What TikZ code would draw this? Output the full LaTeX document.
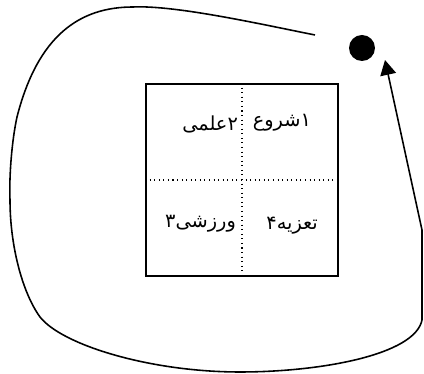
\documentclass[tikz,border=0pt]{standalone}
\usepackage{fontspec}
\usepackage{tikz}
\usetikzlibrary{arrows.meta, positioning, calc}
\TeXXeTstate=1
\newfontfamily\arabicfont[Script=Arabic]{DejaVu Sans}

\begin{document}
\begin{tikzpicture}[
      x=0.02cm, y=-0.02cm,
      grid/.style={rectangle, draw=black, line width=1.1pt,
                   minimum width=3.84cm, minimum height=3.84cm, inner sep=0pt},
      cell/.style={font=\arabicfont\fontsize{11}{13}\selectfont, inner sep=1pt, anchor=east},
      sep/.style={dotted, line width=0.6pt},
      token/.style={circle, fill=black, minimum size=0.52cm, inner sep=0pt},
      loop/.style={-{Triangle[length=8.5pt, width=9pt]}, line width=0.9pt, draw=black}
    ]
    \useasboundingbox (0,0) rectangle (424,374);
    \node[grid] (board) at (242,180) {};
    \draw[sep] (board.north) -- (board.south);
    \draw[sep] (board.west) -- (board.east);
    \node[cell] (start) at (313,123) {\beginR ۱شروع\endR};
    \node[cell] (sci) at (240,124) {\beginR ۲علمی\endR};
    \node[cell] (sport) at (238,224) {\beginR ورزشی۳\endR};
    \node[cell] (mourn) at (320,226) {\beginR تعزیه۴\endR};
    \node[token] (dot) at (362,48) {};
    \coordinate (open) at (315,35);
    \coordinate (tip) at (385,60);
    \draw[loop] (open) .. controls (260,24) and (175,5) .. (133,7)
        .. controls (80,7) and (38,35) .. (17,117)
        .. controls (12,140) and (9,175) .. (10,200)
        .. controls (10,245) and (22,292) .. (40,317)
        .. controls (62,345) and (150,372) .. (240,372)
        .. controls (320,372) and (415,355) .. (422,320)
        -- (422,230) -- (tip);
  \end{tikzpicture}
\end{document}
